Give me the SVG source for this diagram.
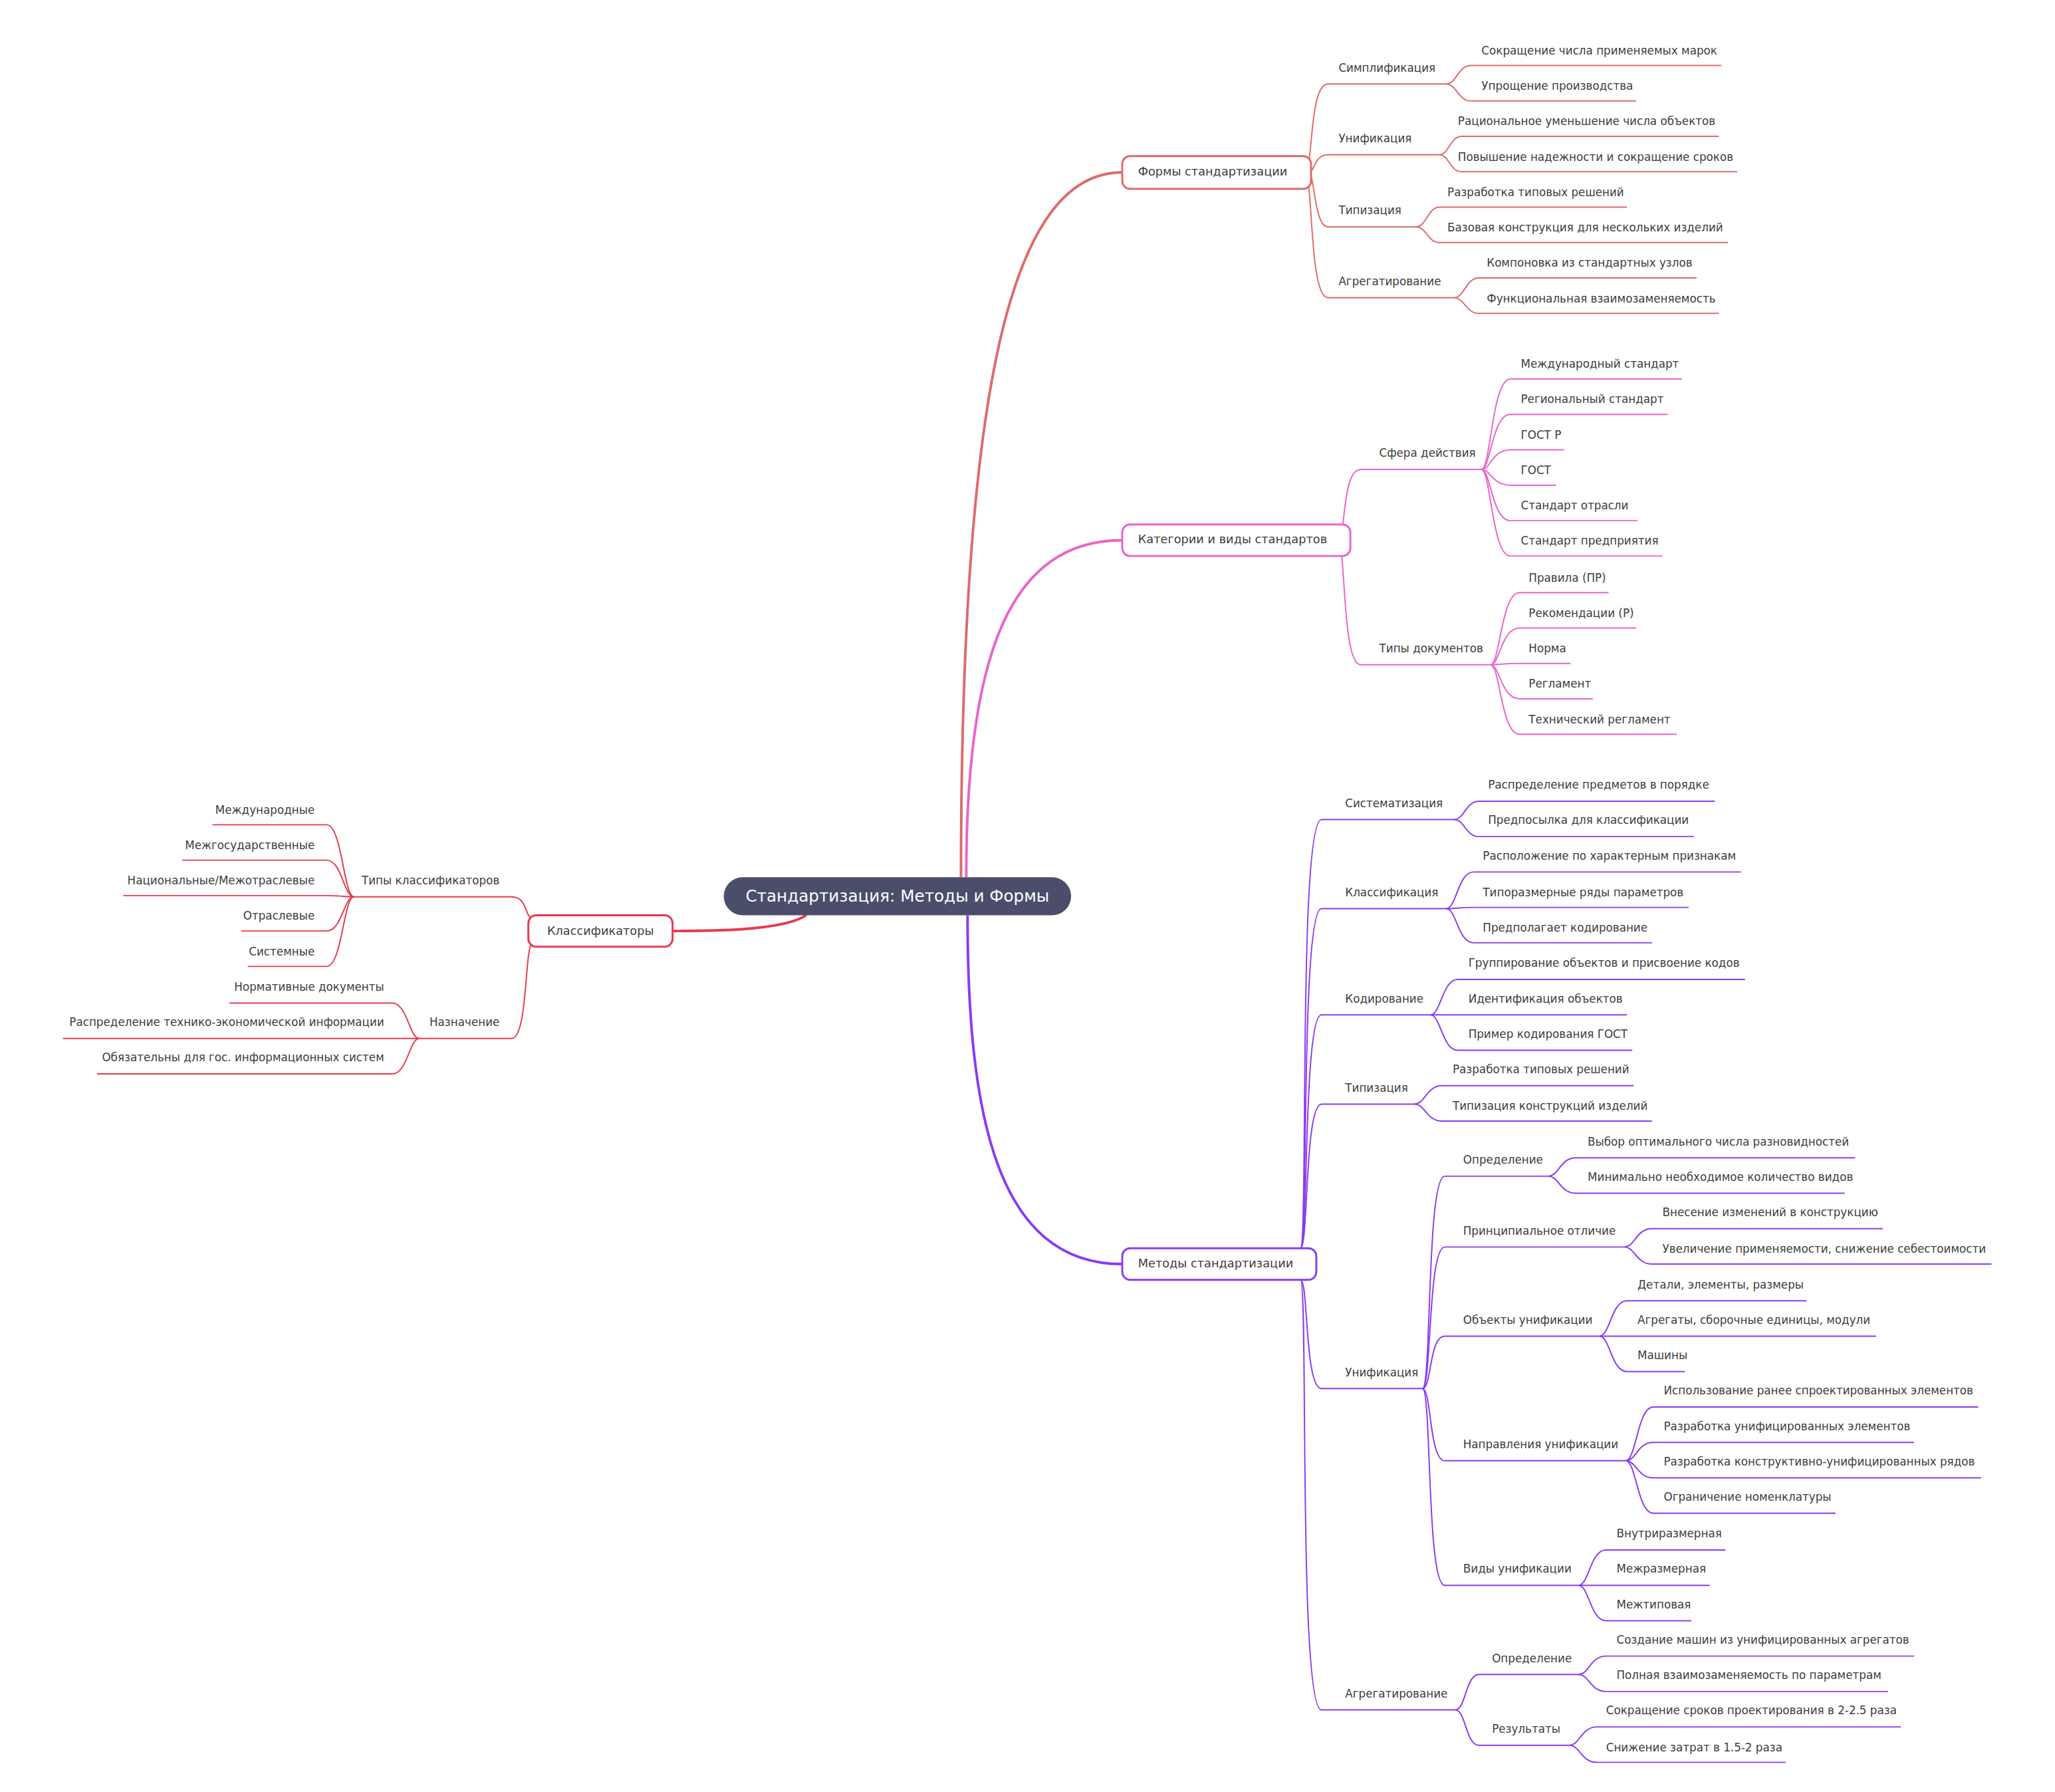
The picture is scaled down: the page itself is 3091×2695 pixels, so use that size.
<svg xmlns="http://www.w3.org/2000/svg" width="3091" height="2695" viewBox="0 0 3091 2695">
<style>
text{font-family:"DejaVu Sans","Liberation Sans",sans-serif;fill:#3d3d3d;font-size:17px;dominant-baseline:middle}
.e{fill:none;stroke-width:2}
.r{stroke:#dd6b6b}.p{stroke:#e865cc}.v{stroke:#8a3cf0}.c{stroke:#e63b50}
.n{fill:#fff;stroke-width:3}
.big{fill:none;stroke-width:4}
.l1{font-size:18px}
.end{text-anchor:end}
</style>
<rect width="3091" height="2695" fill="#fff"/>
<g transform="scale(0.986)">
<g id="connectors">
<path class="big r" d="M1466,1338 C1466,600 1540,263 1712,263"/>
<path class="big p" d="M1474,1338 C1474,1000 1540,824 1712,824"/>
<path class="big v" d="M1476,1396 C1476,1700 1520,1928 1712,1928"/>
<path class="big c" d="M1230,1396 C1200,1416 1120,1420 1026,1420"/>
<g class="e r">
<path d="M1990,263 C2004,263 1996,128 2026,128 L2206,128"/>
<path d="M1996,263 C2006,263 2004,236 2026,236 L2196,236"/>
<path d="M1996,263 C2006,263 2004,346 2026,346 L2160,346"/>
<path d="M1990,263 C2004,263 1996,454 2026,454 L2218,454"/>
<path d="M2206,128 C2222,128 2224,100 2244,100 L2626,100"/>
<path d="M2206,128 C2222,128 2224,154 2244,154 L2496,154"/>
<path d="M2196,236 C2210,236 2212,208 2230,208 L2622,208"/>
<path d="M2196,236 C2210,236 2212,262 2230,262 L2650,262"/>
<path d="M2160,346 C2176,346 2178,316 2196,316 L2482,316"/>
<path d="M2160,346 C2176,346 2178,370 2196,370 L2636,370"/>
<path d="M2218,454 C2234,454 2236,424 2256,424 L2588,424"/>
<path d="M2218,454 C2234,454 2236,478 2256,478 L2622,478"/>
</g>
<g class="e p">
<path d="M2040,824 C2054,824 2046,716 2076,716 L2260,716"/>
<path d="M2040,824 C2054,824 2046,1014 2076,1014 L2274,1014"/>
<path d="M2260,716 C2274,716 2276,578 2304,578 L2566,578"/>
<path d="M2260,716 C2274,716 2276,632 2304,632 L2544,632"/>
<path d="M2260,716 C2274,716 2276,686 2304,686 L2386,686"/>
<path d="M2260,716 C2274,716 2276,740 2304,740 L2374,740"/>
<path d="M2260,716 C2274,716 2276,794 2304,794 L2498,794"/>
<path d="M2260,716 C2274,716 2276,848 2304,848 L2536,848"/>
<path d="M2274,1014 C2288,1014 2290,904 2318,904 L2454,904"/>
<path d="M2274,1014 C2288,1014 2290,958 2318,958 L2496,958"/>
<path d="M2274,1014 C2288,1014 2290,1012 2318,1012 L2396,1012"/>
<path d="M2274,1014 C2288,1014 2290,1066 2318,1066 L2430,1066"/>
<path d="M2274,1014 C2288,1014 2290,1120 2318,1120 L2558,1120"/>
</g>
<g class="e v">
<path d="M1984,1904 C1996,1904 1980,1250 2016,1250 L2218,1250"/>
<path d="M1984,1904 C1996,1904 1984,1386 2016,1386 L2206,1386"/>
<path d="M1984,1904 C1996,1904 1988,1548 2016,1548 L2182,1548"/>
<path d="M1984,1904 C1996,1904 1990,1684 2016,1684 L2158,1684"/>
<path d="M1984,1952 C1996,1952 1990,2118 2016,2118 L2170,2118"/>
<path d="M1984,1952 C1996,1952 1980,2608 2016,2608 L2220,2608"/>
<path d="M2218,1250 C2234,1250 2236,1222 2256,1222 L2616,1222"/>
<path d="M2218,1250 C2234,1250 2236,1276 2256,1276 L2584,1276"/>
<path d="M2206,1386 C2222,1386 2224,1330 2248,1330 L2656,1330"/>
<path d="M2206,1386 C2222,1386 2224,1384 2248,1384 L2576,1384"/>
<path d="M2206,1386 C2222,1386 2224,1438 2248,1438 L2520,1438"/>
<path d="M2182,1548 C2198,1548 2200,1494 2224,1494 L2662,1494"/>
<path d="M2182,1548 C2198,1548 2200,1548 2224,1548 L2482,1548"/>
<path d="M2182,1548 C2198,1548 2200,1602 2224,1602 L2490,1602"/>
<path d="M2158,1684 C2174,1684 2176,1656 2200,1656 L2492,1656"/>
<path d="M2158,1684 C2174,1684 2176,1710 2200,1710 L2520,1710"/>
<path d="M2170,2118 C2184,2118 2176,1794 2204,1794 L2362,1794"/>
<path d="M2170,2118 C2184,2118 2178,1902 2204,1902 L2478,1902"/>
<path d="M2170,2118 C2184,2118 2180,2038 2204,2038 L2440,2038"/>
<path d="M2170,2118 C2184,2118 2180,2228 2204,2228 L2480,2228"/>
<path d="M2170,2118 C2184,2118 2176,2418 2204,2418 L2408,2418"/>
<path d="M2362,1794 C2378,1794 2380,1766 2404,1766 L2830,1766"/>
<path d="M2362,1794 C2378,1794 2380,1820 2404,1820 L2814,1820"/>
<path d="M2478,1902 C2494,1902 2496,1874 2520,1874 L2872,1874"/>
<path d="M2478,1902 C2494,1902 2496,1928 2520,1928 L3038,1928"/>
<path d="M2440,2038 C2456,2038 2458,1984 2482,1984 L2756,1984"/>
<path d="M2440,2038 C2456,2038 2458,2038 2482,2038 L2862,2038"/>
<path d="M2440,2038 C2456,2038 2458,2092 2482,2092 L2570,2092"/>
<path d="M2480,2228 C2496,2228 2498,2146 2522,2146 L3018,2146"/>
<path d="M2480,2228 C2496,2228 2498,2200 2522,2200 L2920,2200"/>
<path d="M2480,2228 C2496,2228 2498,2254 2522,2254 L3022,2254"/>
<path d="M2480,2228 C2496,2228 2498,2308 2522,2308 L2800,2308"/>
<path d="M2408,2418 C2424,2418 2426,2364 2450,2364 L2632,2364"/>
<path d="M2408,2418 C2424,2418 2426,2418 2450,2418 L2608,2418"/>
<path d="M2408,2418 C2424,2418 2426,2472 2450,2472 L2580,2472"/>
<path d="M2220,2608 C2236,2608 2236,2554 2256,2554 L2408,2554"/>
<path d="M2220,2608 C2236,2608 2236,2662 2256,2662 L2394,2662"/>
<path d="M2408,2554 C2424,2554 2426,2526 2450,2526 L2920,2526"/>
<path d="M2408,2554 C2424,2554 2426,2580 2450,2580 L2880,2580"/>
<path d="M2394,2662 C2410,2662 2412,2634 2436,2634 L2900,2634"/>
<path d="M2394,2662 C2410,2662 2412,2688 2436,2688 L2724,2688"/>
</g>
<g class="e c">
<path d="M812,1400 C800,1400 806,1368 780,1368 L540,1368"/>
<path d="M812,1440 C800,1440 806,1584 780,1584 L640,1584"/>
<path d="M540,1368 C524,1368 522,1258 498,1258 L324,1258"/>
<path d="M540,1368 C524,1368 522,1312 498,1312 L278,1312"/>
<path d="M540,1368 C524,1368 522,1366 498,1366 L188,1366"/>
<path d="M540,1368 C524,1368 522,1420 498,1420 L368,1420"/>
<path d="M540,1368 C524,1368 522,1474 498,1474 L378,1474"/>
<path d="M640,1584 C624,1584 622,1530 598,1530 L350,1530"/>
<path d="M640,1584 C624,1584 622,1584 598,1584 L96,1584"/>
<path d="M640,1584 C624,1584 622,1638 598,1638 L148,1638"/>
</g>
</g>
<g id="root"><rect x="1104" y="1338" width="530" height="58" rx="29" fill="#4b4e6b"/><text x="1369" y="1368" text-anchor="middle" style="fill:#fff;font-size:25px">Стандартизация: Методы и Формы</text></g>
<g id="forms"><rect class="n r" x="1712" y="238" width="288" height="50" rx="12"/><text class="l1" x="1736" y="263">Формы стандартизации</text></g>
<g id="categories"><rect class="n p" x="1712" y="800" width="348" height="48" rx="12"/><text class="l1" x="1736" y="824">Категории и виды стандартов</text></g>
<g id="methods"><rect class="n v" x="1712" y="1904" width="296" height="48" rx="12"/><text class="l1" x="1736" y="1928">Методы стандартизации</text></g>
<g id="classifiers"><rect class="n c" x="806" y="1396" width="220" height="48" rx="12"/><text class="l1" x="916" y="1421" text-anchor="middle">Классификаторы</text></g>
<g id="forms-sub">
<text x="2042" y="104">Симплификация</text>
<text x="2260" y="78">Сокращение числа применяемых марок</text>
<text x="2260" y="132">Упрощение производства</text>
<text x="2042" y="212">Унификация</text>
<text x="2224" y="186">Рациональное уменьшение числа объектов</text>
<text x="2224" y="240">Повышение надежности и сокращение сроков</text>
<text x="2042" y="322">Типизация</text>
<text x="2208" y="294">Разработка типовых решений</text>
<text x="2208" y="348">Базовая конструкция для нескольких изделий</text>
<text x="2042" y="430">Агрегатирование</text>
<text x="2268" y="402">Компоновка из стандартных узлов</text>
<text x="2268" y="456">Функциональная взаимозаменяемость</text>
</g>
<g id="categories-sub">
<text x="2104" y="692">Сфера действия</text>
<text x="2320" y="556">Международный стандарт</text>
<text x="2320" y="610">Региональный стандарт</text>
<text x="2320" y="664">ГОСТ Р</text>
<text x="2320" y="718">ГОСТ</text>
<text x="2320" y="772">Стандарт отрасли</text>
<text x="2320" y="826">Стандарт предприятия</text>
<text x="2104" y="990">Типы документов</text>
<text x="2332" y="882">Правила (ПР)</text>
<text x="2332" y="936">Рекомендации (Р)</text>
<text x="2332" y="990">Норма</text>
<text x="2332" y="1044">Регламент</text>
<text x="2332" y="1098">Технический регламент</text>
</g>
<g id="methods-sub">
<text x="2052" y="1226">Систематизация</text>
<text x="2270" y="1198">Распределение предметов в порядке</text>
<text x="2270" y="1252">Предпосылка для классификации</text>
<text x="2052" y="1362">Классификация</text>
<text x="2262" y="1306">Расположение по характерным признакам</text>
<text x="2262" y="1362">Типоразмерные ряды параметров</text>
<text x="2262" y="1416">Предполагает кодирование</text>
<text x="2052" y="1524">Кодирование</text>
<text x="2240" y="1470">Группирование объектов и присвоение кодов</text>
<text x="2240" y="1524">Идентификация объектов</text>
<text x="2240" y="1578">Пример кодирования ГОСТ</text>
<text x="2052" y="1660">Типизация</text>
<text x="2216" y="1632">Разработка типовых решений</text>
<text x="2216" y="1688">Типизация конструкций изделий</text>
<text x="2052" y="2094">Унификация</text>
<text x="2232" y="1770">Определение</text>
<text x="2422" y="1742">Выбор оптимального числа разновидностей</text>
<text x="2422" y="1796">Минимально необходимое количество видов</text>
<text x="2232" y="1878">Принципиальное отличие</text>
<text x="2536" y="1850">Внесение изменений в конструкцию</text>
<text x="2536" y="1906">Увеличение применяемости, снижение себестоимости</text>
<text x="2232" y="2014">Объекты унификации</text>
<text x="2498" y="1960">Детали, элементы, размеры</text>
<text x="2498" y="2014">Агрегаты, сборочные единицы, модули</text>
<text x="2498" y="2068">Машины</text>
<text x="2232" y="2204">Направления унификации</text>
<text x="2538" y="2122">Использование ранее спроектированных элементов</text>
<text x="2538" y="2176">Разработка унифицированных элементов</text>
<text x="2538" y="2230">Разработка конструктивно-унифицированных рядов</text>
<text x="2538" y="2284">Ограничение номенклатуры</text>
<text x="2232" y="2394">Виды унификации</text>
<text x="2466" y="2340">Внутриразмерная</text>
<text x="2466" y="2394">Межразмерная</text>
<text x="2466" y="2448">Межтиповая</text>
<text x="2052" y="2584">Агрегатирование</text>
<text x="2276" y="2530">Определение</text>
<text x="2466" y="2502">Создание машин из унифицированных агрегатов</text>
<text x="2466" y="2556">Полная взаимозаменяемость по параметрам</text>
<text x="2276" y="2638">Результаты</text>
<text x="2450" y="2610">Сокращение сроков проектирования в 2-2.5 раза</text>
<text x="2450" y="2666">Снижение затрат в 1.5-2 раза</text>
</g>
<g id="classifiers-sub">
<text class="end" x="762" y="1344">Типы классификаторов</text>
<text class="end" x="480" y="1236">Международные</text>
<text class="end" x="480" y="1290">Межгосударственные</text>
<text class="end" x="480" y="1344">Национальные/Межотраслевые</text>
<text class="end" x="480" y="1398">Отраслевые</text>
<text class="end" x="480" y="1452">Системные</text>
<text class="end" x="762" y="1560">Назначение</text>
<text class="end" x="586" y="1506">Нормативные документы</text>
<text class="end" x="586" y="1560">Распределение технико-экономической информации</text>
<text class="end" x="586" y="1614">Обязательны для гос. информационных систем</text>
</g>
</g>
</svg>
